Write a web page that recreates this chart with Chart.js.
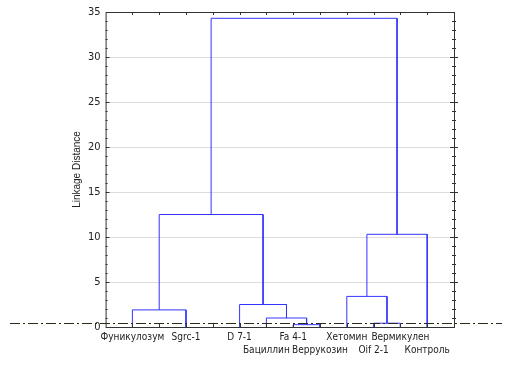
<!DOCTYPE html>
<html>
<head>
<meta charset="utf-8">
<script src="https://cdn.jsdelivr.net/npm/chart.js@4"></script>
<style>
  html, body { margin: 0; padding: 0; background: #fff; }
  #wrap { width: 510px; height: 366px; }
</style>
</head>
<body>
<div id="wrap"><canvas id="dendroChart" width="510" height="366"></canvas></div>
<script>
// листья дендрограммы в порядке отрисовки
const leafNames = ['Фуникулозум', 'Sgrc-1', 'D 7-1', 'Бациллин', 'Fa 4-1', 'Веррукозин', 'Хетомин', 'Oif 2-1', 'Вермикулен', 'Контроль'];
const leafSlots = [1, 3, 5, 6, 7, 8, 9, 10, 11, 12];
const labelRow = [0, 0, 0, 1, 0, 1, 0, 1, 0, 1];

// объединения: [левый узел, правый узел, расстояние]; узлы 0..9 — листья, 10.. — кластеры
const mergeLeft = [4, 7, 3, 0, 2, 6, 15, 13, 17];
const mergeRight = [5, 8, 10, 1, 12, 11, 9, 14, 16];
const mergeHeight = [0.26, 0.42, 1.0, 1.9, 2.5, 3.4, 10.3, 12.5, 34.3];

const yTicks = [0, 5, 10, 15, 20, 25, 30, 35];
const cutHeight = 0.44;

const narrow = "'DejaVu Sans Condensed', 'Liberation Sans Narrow', 'Liberation Sans', sans-serif";

// позиции узлов
const nodeX = leafSlots.slice();
const nodeY = leafSlots.map(() => 0);
const linkSets = [];
for (let i = 0; i < mergeHeight.length; i++) {
    const a = mergeLeft[i], b = mergeRight[i], h = mergeHeight[i];
    linkSets.push({
        data: [
            { x: nodeX[a], y: nodeY[a] },
            { x: nodeX[a], y: h },
            { x: nodeX[b], y: h },
            { x: nodeX[b], y: nodeY[b] }
        ],
        borderColor: '#3434ff',
        borderWidth: 1,
        pointRadius: 0,
        tension: 0,
        fill: false
    });
    nodeX.push((nodeX[a] + nodeX[b]) / 2);
    nodeY.push(h);
}

// рамка, внутренние засечки и линия отсечения
const framePlugin = {
    id: 'frame',
    afterDatasetsDraw(chart) {
        const { ctx, chartArea: a, scales: { x, y } } = chart;
        ctx.save();
        ctx.strokeStyle = '#333';
        ctx.lineWidth = 1;
        ctx.strokeRect(a.left + 0.5, a.top + 0.5, a.right - a.left, a.bottom - a.top);
        ctx.beginPath();
        for (let i = 1; i <= 12; i++) {
            const px = Math.round(x.getPixelForValue(i)) + 0.5;
            ctx.moveTo(px, a.top); ctx.lineTo(px, a.top + 3);
            ctx.moveTo(px, a.bottom); ctx.lineTo(px, a.bottom - 3);
        }
        for (let v = 1; v < 35; v++) {
            const py = Math.round(y.getPixelForValue(v)) + 0.5;
            const len = v % 5 === 0 ? 4 : 2;
            ctx.moveTo(a.left, py); ctx.lineTo(a.left + len, py);
            ctx.moveTo(a.right - len, py); ctx.lineTo(a.right + len, py);
        }
        ctx.stroke();
        // линия отсечения
        const cy = Math.round(y.getPixelForValue(cutHeight)) + 0.5;
        ctx.strokeStyle = '#2a2a1a';
        ctx.setLineDash([10, 3, 2, 3]);
        ctx.beginPath();
        ctx.moveTo(10, cy);
        ctx.lineTo(chart.width - 8, cy);
        ctx.stroke();
        ctx.restore();
    }
};

new Chart(document.getElementById('dendroChart').getContext('2d'), {
    type: 'line',
    data: { datasets: linkSets },
    plugins: [framePlugin],
    options: {
        responsive: false,
        animation: false,
        layout: { padding: { left: 66, right: 56, top: 12, bottom: 5 } },
        plugins: { legend: { display: false }, tooltip: { enabled: false } },
        scales: {
            x: {
                type: 'linear',
                min: 0,
                max: 13,
                border: { display: false },
                grid: { display: false, drawTicks: false },
                afterBuildTicks(scale) {
                    scale.ticks = leafSlots.map(v => ({ value: v }));
                },
                ticks: {
                    autoSkip: false,
                    maxRotation: 0,
                    padding: 4,
                    color: '#222',
                    font: { family: narrow, size: 10, lineHeight: 1.3 },
                    callback(v) {
                        const i = leafSlots.indexOf(v);
                        if (i < 0) return '';
                        return labelRow[i] ? ['', leafNames[i]] : leafNames[i];
                    }
                }
            },
            y: {
                min: 0,
                max: 35,
                border: { display: false },
                afterBuildTicks(scale) {
                    scale.ticks = yTicks.map(v => ({ value: v }));
                },
                grid: {
                    drawTicks: false,
                    color: ctx => (ctx.tick && (ctx.tick.value === 0 || ctx.tick.value === 35)) ? 'rgba(0,0,0,0)' : '#dcdcdc',
                    lineWidth: 1
                },
                ticks: {
                    padding: 5,
                    color: '#222',
                    font: { family: narrow, size: 11 }
                },
                title: {
                    display: true,
                    text: 'Linkage Distance',
                    color: '#222',
                    font: { family: "'Liberation Sans', Arial, sans-serif", size: 10 },
                    padding: { top: 5, bottom: 0 }
                }
            }
        }
    }
});
</script>
</body>
</html>
